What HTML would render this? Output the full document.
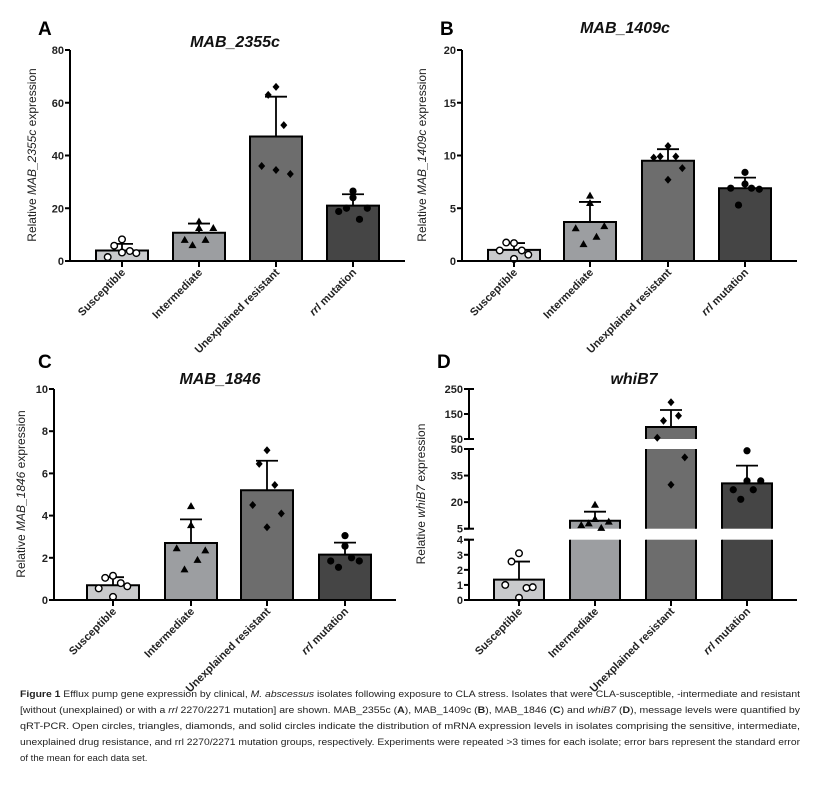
<!DOCTYPE html>
<html><head><meta charset="utf-8">
<style>
html,body{margin:0;padding:0;background:#fff;}
svg{display:block;font-family:"Liberation Sans",sans-serif;}
.tick{font-size:11px;font-weight:bold;fill:#222;}
.xl{font-size:11px;font-weight:bold;fill:#222;}
.ttl{font-size:16px;font-weight:bold;font-style:italic;fill:#111;}
.lt{font-size:19px;font-weight:bold;fill:#000;}
.yl{font-size:12px;fill:#222;}
.cap{font-size:9.6px;fill:#222;}
</style></head>
<body>
<svg id="fig" width="824" height="793" viewBox="0 0 824 793">
<text class="lt" x="38" y="35">A</text>
<text class="ttl" x="235" y="47" text-anchor="middle">MAB_2355c</text>
<text class="yl" transform="translate(36,155) rotate(-90)" text-anchor="middle">Relative <tspan font-style="italic">MAB_2355c</tspan> expression</text>
<text class="lt" x="440" y="35">B</text>
<text class="ttl" x="625" y="33" text-anchor="middle">MAB_1409c</text>
<text class="yl" transform="translate(426,155) rotate(-90)" text-anchor="middle">Relative <tspan font-style="italic">MAB_1409c</tspan> expression</text>
<text class="lt" x="38" y="368">C</text>
<text class="ttl" x="220" y="384" text-anchor="middle">MAB_1846</text>
<text class="yl" transform="translate(25,494) rotate(-90)" text-anchor="middle">Relative <tspan font-style="italic">MAB_1846</tspan> expression</text>
<text class="lt" x="437" y="368">D</text>
<text class="ttl" x="634" y="384" text-anchor="middle">whiB7</text>
<text class="yl" transform="translate(425,494) rotate(-90)" text-anchor="middle">Relative <tspan font-style="italic">whiB7</tspan> expression</text>
<g>
<text class="cap" x="20" y="697" textLength="780" lengthAdjust="spacingAndGlyphs"><tspan font-weight="bold">Figure 1</tspan> Efflux pump gene expression by clinical, <tspan font-style="italic">M. abscessus</tspan> isolates following exposure to CLA stress. Isolates that were CLA-susceptible, -intermediate and resistant</text>
<text class="cap" x="20" y="713" textLength="780" lengthAdjust="spacingAndGlyphs">[without (unexplained) or with a <tspan font-style="italic">rrl</tspan> 2270/2271 mutation] are shown. MAB_2355c (<tspan font-weight="bold">A</tspan>), MAB_1409c (<tspan font-weight="bold">B</tspan>), MAB_1846 (<tspan font-weight="bold">C</tspan>) and <tspan font-style="italic">whiB7</tspan> (<tspan font-weight="bold">D</tspan>), message levels were quantified by</text>
<text class="cap" x="20" y="729" textLength="780" lengthAdjust="spacingAndGlyphs">qRT-PCR. Open circles, triangles, diamonds, and solid circles indicate the distribution of mRNA expression levels in isolates comprising the sensitive, intermediate,</text>
<text class="cap" x="20" y="745" textLength="780" lengthAdjust="spacingAndGlyphs">unexplained drug resistance, and rrl 2270/2271 mutation groups, respectively. Experiments were repeated &gt;3 times for each isolate; error bars represent the standard error</text>
<text class="cap" x="20" y="761">of the mean for each data set.</text>
</g>
</svg>
<script>
const categories = ["Susceptible","Intermediate","Unexplained resistant","rrl mutation"];
const aMeans = [4, 10.7, 47.2, 21];
const aErr = [6.5, 14.2, 62.3, 25.3];
const aPts = [[8.2,5.8,3.8,1.5,3,3.2],[15,12.5,12.5,8,8,6],[66,63,51.5,36,33,34.5],[26.5,24,20,18.8,15.8,20]];
const aTicks = [0,20,40,60,80];
const bMeans = [1.05, 3.7, 9.5, 6.9];
const bErr = [1.7, 5.6, 10.6, 7.9];
const bPts = [[1.7,1.75,1.0,1.0,0.6,0.2],[6.2,5.5,3.3,3.1,2.3,1.6],[10.9,9.9,9.9,9.8,8.8,7.7],[8.4,7.3,6.8,6.9,6.9,5.3]];
const bTicks = [0,5,10,15,20];
const cMeans = [0.7, 2.7, 5.2, 2.15];
const cErr = [1.08, 3.82, 6.6, 2.72];
const cPts = [[1.15,1.05,0.8,0.55,0.65,0.15],[4.45,3.55,2.35,2.45,1.9,1.45],[7.1,6.45,5.45,4.5,4.1,3.45],[3.05,2.55,1.85,1.85,2.0,1.55]];
const cTicks = [0,2,4,6,8,10];
const dMeans = [1.35, 9.5, 98, 30.6];
const dErr = [2.55, 14.6, 166, 40.6];
const dPts = [[3.1,2.55,0.8,1.0,0.85,0.15],[18.5,10.5,9,7,5.5,8],[197,123,143,55,45.3,29.8],[49,32,32,27,27,21.6]];
const dTicks1 = [0,1,2,3,4];
const dTicks2 = [5,20,35,50];
const dTicks3 = [50,150,250];

const NS="http://www.w3.org/2000/svg";
const svg=document.getElementById('fig');
const fills=["#c9cacc","#9c9ea1","#6d6d6d","#454545"];
const jit=[[0,-0.3,0.3,-0.55,0.55,0],[0,0,0.55,-0.55,0.25,-0.25]];
function mk(tag,attrs,parent){const e=document.createElementNS(NS,tag);for(const k in attrs)e.setAttribute(k,attrs[k]);(parent||svg).appendChild(e);return e;}

function marker(g,shape,cx,cy){
  let e;
  if(shape===0){e=mk('circle',{cx:cx,cy:cy,r:3.3,fill:'#fff',stroke:'#000','stroke-width':1.4},g);}
  else if(shape===1){e=mk('polygon',{points:`${cx},${cy-4} ${cx-4},${cy+3} ${cx+4},${cy+3}`,fill:'#000'},g);}
  else if(shape===2){e=mk('polygon',{points:`${cx},${cy-4} ${cx+3.5},${cy} ${cx},${cy+4} ${cx-3.5},${cy}`,fill:'#000'},g);}
  else {e=mk('circle',{cx:cx,cy:cy,r:3.6,fill:'#000'},g);}
  
  
}

function panel(id,ax,x0,xs,bw,ybase,yscale,means,errs,pts,segments){
  const g=mk('g',{});
  
  
  means.forEach((m,i)=>{
    const cx=xs[i];
    const my=yscale(m);
    segments.forEach(sg=>{
      if(my>sg.yBot) return;
      const clipped = my<sg.yTop;
      const top=clipped?sg.yTop:my, bot=sg.yBot;
      const r=mk('rect',{x:cx-bw/2,y:top,width:bw,height:bot-top,fill:fills[i]},g);
      
      
      let d=`M${cx-bw/2},${top} V${bot} M${cx+bw/2},${top} V${bot}`;
      if(!clipped) d+=` M${cx-bw/2-1},${top} H${cx+bw/2+1}`;
      if(bot===ybase) d+=` M${cx-bw/2},${bot} H${cx+bw/2}`;
      mk('path',{d:d,stroke:'#000','stroke-width':2,fill:'none'},g);
    });
    const ey=yscale(errs[i]);
    const el=mk('path',{d:`M${cx},${my} V${ey} M${cx-11},${ey} H${cx+11}`,stroke:'#000','stroke-width':1.8,fill:'none'},g);
    
    
    pts[i].forEach((v,j)=>{
      const off=jit[i%2][j]*bw*0.5;
      marker(g,i,cx+off,yscale(v));
    });
  });
  segments.forEach(sg=>{
    const a=mk('line',{x1:ax,x2:ax,y1:sg.yTop,y2:sg.yBot,stroke:'#000','stroke-width':2},g);
    
    
    if(sg.cap){
      mk('line',{x1:ax-5,x2:ax+5,y1:sg.yTop,y2:sg.yTop,stroke:'#000','stroke-width':2},g);
      if(sg.capBot) mk('line',{x1:ax-5,x2:ax+5,y1:sg.yBot,y2:sg.yBot,stroke:'#000','stroke-width':2},g);
    }
    sg.ticks.forEach(t=>{
      const y=yscale(t, sg);
      mk('line',{x1:ax-5,x2:ax,y1:y,y2:y,stroke:'#000','stroke-width':2},g);
      const tx=mk('text',{x:ax-6,y:y+4,'text-anchor':'end',class:'tick'},g);
      tx.textContent=t;
      
      
    });
  });
  const xa=mk('line',{x1:ax-5,x2:x0,y1:ybase,y2:ybase,stroke:'#000','stroke-width':2},g);
  
  
  xs.forEach((cx,i)=>{
    mk('line',{x1:cx,x2:cx,y1:ybase,y2:ybase+6,stroke:'#000','stroke-width':2},g);
    const t=mk('text',{transform:`translate(${cx+4},${ybase+12}) rotate(-45)`,'text-anchor':'end',class:'xl'},g);
    if(i===3){const s=mk('tspan',{'font-style':'italic'},t);s.textContent='rrl';t.appendChild(document.createTextNode(' mutation'));}
    else t.textContent=categories[i];
    
    
  });
}

function lin(d0,d1,r0,r1){return v=>r0+(v-d0)/(d1-d0)*(r1-r0);}
const sA=lin(0,80,261,50), sB=lin(0,20,261,50), sC=lin(0,10,600,389);
panel('a',70,405,[122,199,276,353],52,261,sA,aMeans,aErr,aPts,[{yTop:50,yBot:261,ticks:aTicks}]);
panel('b',462,797,[514,590,668,745],52,261,sB,bMeans,bErr,bPts,[{yTop:50,yBot:261,ticks:bTicks}]);
panel('c',54,396,[113,191,267,345],52,600,sC,cMeans,cErr,cPts,[{yTop:389,yBot:600,ticks:cTicks}]);

const d1=lin(0,4,600,539.7), d2=lin(5,50,528.7,449), d3=lin(50,250,439,389);
function sD(v,sg){
  if(sg){return sg.f(v);}
  if(v<=4.5) return d1(v);
  if(v<=50) return d2(v);
  return d3(v);
}
panel('d',469,797,[519,595,671,747],50,600,sD,dMeans,dErr,dPts,[
  {yTop:539.7,yBot:600,ticks:dTicks1,f:d1,cap:true},
  {yTop:449,yBot:528.7,ticks:dTicks2,f:d2,cap:true,capBot:true},
  {yTop:389,yBot:439,ticks:dTicks3,f:d3,cap:true,capBot:true}
]);
</script>
</body></html>
